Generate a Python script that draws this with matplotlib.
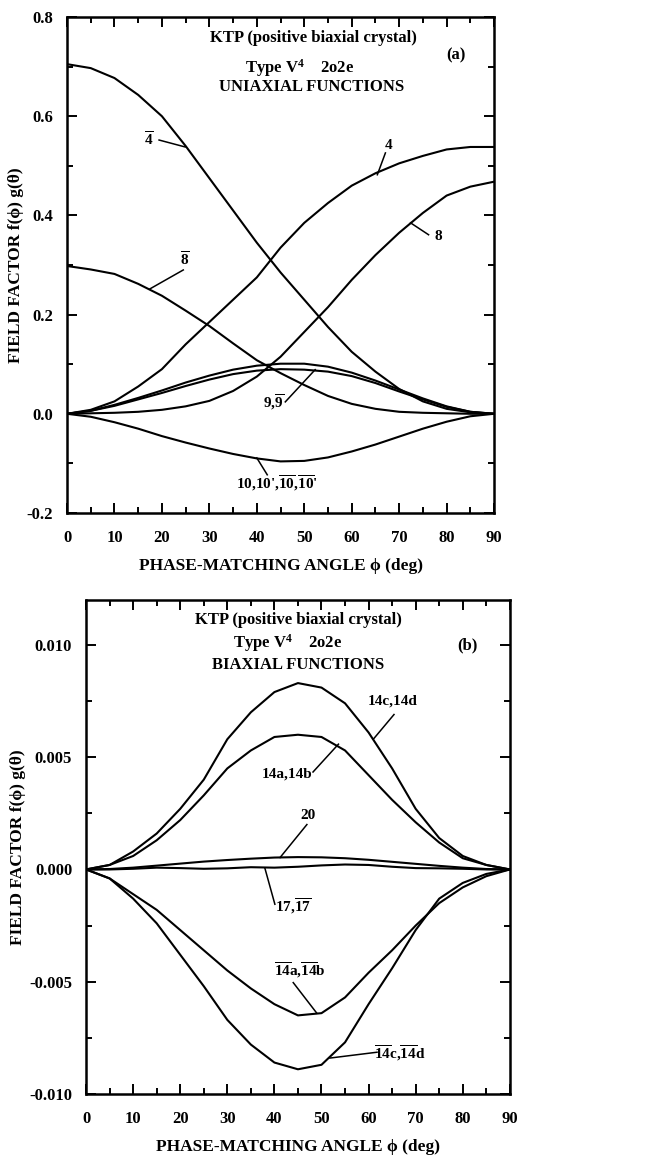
import matplotlib
matplotlib.use("Agg")
import matplotlib.pyplot as plt
from matplotlib.ticker import MultipleLocator

plt.rcParams['font.family'] = ['Liberation Serif', 'DejaVu Serif']
plt.rcParams['font.weight'] = 'bold'
plt.rcParams['axes.labelweight'] = 'bold'
plt.rcParams['mathtext.fontset'] = 'custom'
plt.rcParams['mathtext.rm'] = 'Liberation Serif:bold'
plt.rcParams['mathtext.bf'] = 'Liberation Serif:bold'
plt.rcParams['mathtext.it'] = 'Liberation Serif:bold'

# Data (phase-matching angle, deg)
phi = [0, 5, 10, 15, 20, 25, 30, 35, 40, 45, 50, 55, 60, 65, 70, 75, 80, 85, 90]

# (a) uniaxial functions
f4bar = [0.705, 0.697, 0.677, 0.643, 0.600, 0.540, 0.475, 0.410, 0.345, 0.285,
         0.230, 0.175, 0.125, 0.085, 0.050, 0.025, 0.010, 0.003, 0.0]
f4 = [0.0, 0.008, 0.025, 0.055, 0.090, 0.140, 0.185, 0.230, 0.275, 0.335,
      0.385, 0.425, 0.460, 0.485, 0.505, 0.520, 0.533, 0.538, 0.538]
f8 = [0.0, 0.001, 0.002, 0.004, 0.008, 0.015, 0.026, 0.046, 0.075, 0.115,
      0.165, 0.215, 0.270, 0.320, 0.365, 0.405, 0.440, 0.458, 0.468]
f8bar = [0.298, 0.291, 0.282, 0.262, 0.238, 0.208, 0.177, 0.142, 0.108, 0.082,
         0.058, 0.036, 0.020, 0.010, 0.004, 0.002, 0.001, 0.0, 0.0]
f9 = [0.0, 0.006, 0.018, 0.032, 0.047, 0.063, 0.077, 0.089, 0.097, 0.101,
      0.101, 0.095, 0.083, 0.067, 0.049, 0.031, 0.015, 0.004, 0.0]
f9bar = [0.0, 0.006, 0.016, 0.029, 0.042, 0.056, 0.069, 0.080, 0.087, 0.090,
         0.089, 0.085, 0.076, 0.062, 0.045, 0.029, 0.014, 0.004, 0.0]
f10 = [0.0, -0.006, -0.017, -0.030, -0.045, -0.058, -0.070, -0.081, -0.090, -0.096,
       -0.095, -0.088, -0.076, -0.062, -0.046, -0.030, -0.016, -0.005, 0.0]

# (b) biaxial functions
f14cd = [0.0, 0.0002, 0.0008, 0.0016, 0.0027, 0.0040, 0.0058, 0.0070, 0.0079, 0.0083,
         0.0081, 0.0074, 0.0061, 0.0045, 0.0027, 0.0014, 0.0006, 0.0002, 0.0]
f14ab = [0.0, 0.0002, 0.0006, 0.0013, 0.0022, 0.0033, 0.0045, 0.0053, 0.0059, 0.0060,
         0.0059, 0.0053, 0.0042, 0.0031, 0.0021, 0.0012, 0.0005, 0.0002, 0.0]
f20 = [0.0, 0.00002, 0.00008, 0.00017, 0.00026, 0.00035, 0.00042, 0.00048, 0.00053, 0.00055,
       0.00054, 0.00050, 0.00043, 0.00034, 0.00025, 0.00016, 0.00008, 0.00002, 0.0]
f17 = [0.0, 0.0, 0.00003, 0.00008, 0.00006, 0.00003, 0.00005, 0.00010, 0.00008, 0.00012,
       0.00018, 0.00022, 0.00020, 0.00012, 0.00006, 0.00005, 0.00003, 0.0, 0.0]
f14ab_bar = [0.0, -0.0004, -0.0011, -0.0018, -0.0027, -0.0036, -0.0045, -0.0053, -0.0060, -0.0065,
             -0.0064, -0.0057, -0.0046, -0.0036, -0.0025, -0.0015, -0.0008, -0.0003, 0.0]
f14cd_bar = [0.0, -0.0004, -0.0013, -0.0024, -0.0038, -0.0052, -0.0067, -0.0078, -0.0086, -0.0089,
             -0.0087, -0.0077, -0.0060, -0.0044, -0.0027, -0.0013, -0.0006, -0.0002, 0.0]

# curve labels: text, text position, leader start, leader end (on curve)
labels_a = [
    (r'$\overline{4}$', (17.3, 0.553), (19.4, 0.552), (24.9, 0.538)),
    ('4', (67.8, 0.540), (67.1, 0.526), (65.4, 0.482)),
    ('8', (78.3, 0.357), (76.2, 0.361), (72.4, 0.385)),
    (r'$\overline{8}$', (24.9, 0.310), (24.5, 0.290), (17.5, 0.252)),
    (r'9,$\overline{9}$', (43.5, 0.023), (46.0, 0.024), (52.3, 0.089)),
    (r"10,10',$\overline{10}$,$\overline{10}$'", (44.3, -0.139), (42.2, -0.123), (40.0, -0.089)),
]
labels_b = [
    ('14c,14d', (65.2, 0.00752), (65.4, 0.0069), (61.0, 0.0058)),
    ('14a,14b', (42.6, 0.00425), (48.2, 0.00434), (53.6, 0.00558)),
    ('20', (47.2, 0.0024), (46.9, 0.0020), (41.2, 0.00053)),
    (r'17,$\overline{17}$', (44.0, -0.00164), (40.1, -0.00155), (38.0, 0.00004)),
    (r'$\overline{14}$a,$\overline{14}$b', (45.4, -0.0045), (44.0, -0.00504), (49.0, -0.0064)),
    (r'$\overline{14}$c,$\overline{14}$d', (66.7, -0.0082), (61.8, -0.00814), (51.8, -0.0084)),
]

fig = plt.figure(figsize=(6.57, 11.59), dpi=100)
ax1 = fig.add_axes([0.102, 0.5574, 0.650, 0.4279])
ax2 = fig.add_axes([0.131, 0.0561, 0.645, 0.4262])


def style(ax, ymaj, ymin, fmt):
    ax.set_xlim(0, 90)
    ax.xaxis.set_major_locator(MultipleLocator(10))
    ax.xaxis.set_minor_locator(MultipleLocator(5))
    ax.yaxis.set_major_locator(MultipleLocator(ymaj))
    ax.yaxis.set_minor_locator(MultipleLocator(ymin))
    ax.tick_params(which='both', direction='in', top=True, right=True, width=1.4,
                   labelsize=12)
    ax.tick_params(axis='x', pad=12)
    ax.tick_params(axis='y', pad=10)
    ax.tick_params(which='major', length=7)
    ax.tick_params(which='minor', length=4)
    for sp in ax.spines.values():
        sp.set_linewidth(1.8)
    ax.yaxis.set_major_formatter(plt.FormatStrFormatter(fmt))
    ax.set_xlabel('PHASE-MATCHING ANGLE \u03d5 (deg)', fontsize=12.5, labelpad=9)
    ax.set_ylabel('FIELD FACTOR f(\u03d5) g(\u03b8)', fontsize=12.5, labelpad=2)


def add_labels(ax, labels):
    for txt, tpos, p0, p1 in labels:
        ax.text(tpos[0], tpos[1], txt, ha='center', va='center', fontsize=11)
        ax.plot([p0[0], p1[0]], [p0[1], p1[1]], color='black', lw=1.1)


kw = dict(color='black', lw=1.5)
tk = dict(ha='center', va='center', fontsize=12)

# ---- panel (a) ----
for y in (f4bar, f4, f8, f8bar, f9, f9bar, f10):
    ax1.plot(phi, y, **kw)
ax1.set_ylim(-0.2, 0.8)
style(ax1, 0.2, 0.1, '%.1f')
ax1.text(52, 0.758, 'KTP (positive biaxial crystal)', **tk)
ax1.text(82, 0.722, '(a)', **tk)
ax1.text(49, 0.697, 'Type V$^{4}$    2o2e', **tk)
ax1.text(51.6, 0.659, 'UNIAXIAL FUNCTIONS', **tk)
add_labels(ax1, labels_a)

# ---- panel (b) ----
for y in (f14cd, f14ab, f20, f17, f14ab_bar, f14cd_bar):
    ax2.plot(phi, y, **kw)
ax2.set_ylim(-0.010, 0.012)
style(ax2, 0.005, 0.0025, '%.3f')
ax2.text(45, 0.0111, 'KTP (positive biaxial crystal)', **tk)
ax2.text(42.7, 0.0101, 'Type V$^{4}$    2o2e', **tk)
ax2.text(45, 0.0091, 'BIAXIAL FUNCTIONS', **tk)
ax2.text(81, 0.0100, '(b)', **tk)
add_labels(ax2, labels_b)

fig.savefig('out.png', dpi=100)
